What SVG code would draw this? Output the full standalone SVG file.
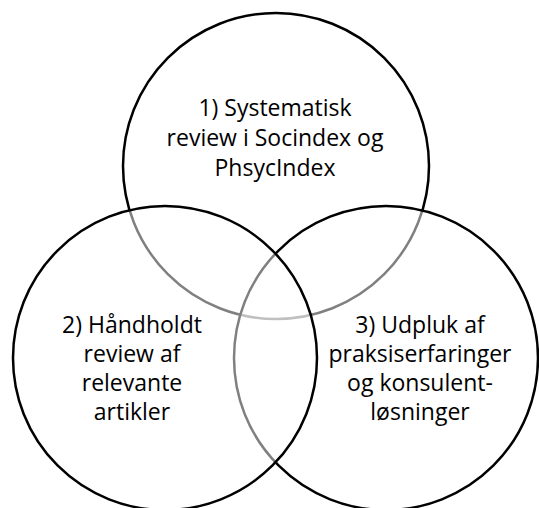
<svg xmlns="http://www.w3.org/2000/svg" width="539" height="508" viewBox="0 0 539 508">
<style>
.c{fill:#ffffff;fill-opacity:0.5;stroke:#000;stroke-width:2.5}
.t{font-family:"Open Sans","Liberation Sans",sans-serif;font-size:23px;fill:#000;text-anchor:middle}
</style>
<rect width="539" height="508" fill="#fff"/>
<g id="node1">
<circle class="c" cx="276" cy="166" r="153"/>
</g>
<g id="node3">
<circle class="c" cx="386" cy="358" r="152"/>
</g>
<g id="node2">
<circle class="c" cx="165" cy="358" r="152"/>
</g>
<g id="labels1">
<text class="t" x="275" y="116">1) Systematisk</text>
<text class="t" x="275" y="146">review i Socindex og</text>
<text class="t" x="275" y="176">PhsycIndex</text>
</g>
<g id="labels2">
<text class="t" x="132" y="333">2) Håndholdt</text>
<text class="t" x="132" y="362">review af</text>
<text class="t" x="132" y="391">relevante</text>
<text class="t" x="132" y="420">artikler</text>
</g>
<g id="labels3">
<text class="t" x="420" y="333">3) Udpluk af</text>
<text class="t" x="420" y="362">praksiserfaringer</text>
<text class="t" x="420" y="391">og konsulent-</text>
<text class="t" x="420" y="420">løsninger</text>
</g>
<g id="connectors"></g>
</svg>
